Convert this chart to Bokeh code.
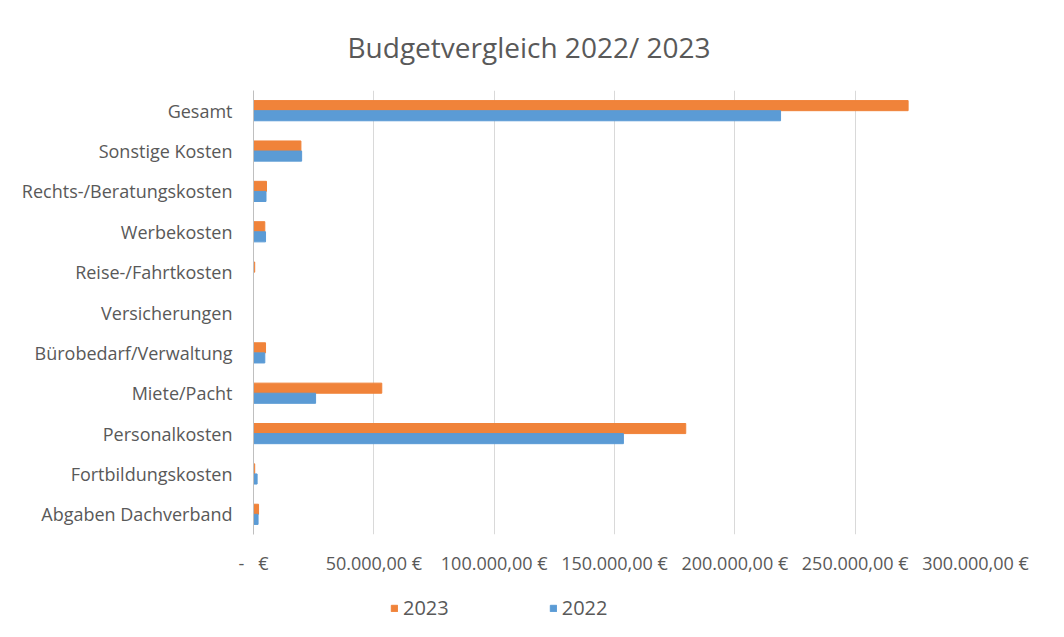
from bokeh.plotting import figure
from bokeh.layouts import column
from bokeh.models import FactorRange, FixedTicker, Legend, LegendItem, ColumnDataSource
from bokeh.transform import dodge
from bokeh.embed import file_html
from bokeh.resources import INLINE

categories = ["Abgaben Dachverband", "Fortbildungskosten", "Personalkosten", "Miete/Pacht",
              "Bürobedarf/Verwaltung", "Versicherungen", "Reise-/Fahrtkosten", "Werbekosten",
              "Rechts-/Beratungskosten", "Sonstige Kosten", "Gesamt"]
values_2023 = [2100, 500, 179600, 53300, 5000, 0, 500, 4700, 5400, 19700, 272000]
values_2022 = [1900, 1500, 153700, 25800, 4700, 0, 0, 5000, 5200, 20000, 219000]
tick_values = [0, 50000, 100000, 150000, 200000, 250000, 300000]
tick_labels = ["-\u00a0\u00a0\u00a0€", "50.000,00 €", "100.000,00 €", "150.000,00 €", "200.000,00 €",
               "250.000,00 €", "300.000,00 €"]
series_names = ["2023", "2022"]
series_colors = ["#F0833A", "#5B9BD5"]

src = ColumnDataSource(dict(cat=categories, v23=values_2023, v22=values_2022))

TXT = "#595959"
FONT = "Open Sans"

p = figure(frame_width=722, frame_height=444, y_range=FactorRange(factors=categories),
           x_range=(0, 300000), output_backend="svg", toolbar_location=None,
           title="Budgetvergleich 2022/ 2023")
p.min_border_left = 253
p.min_border_right = 85
p.min_border_top = 90
p.min_border_bottom = 46
p.outline_line_color = None
p.border_fill_color = "white"

p.title.align = "left"
p.title.text_font = FONT
p.title.text_font_size = "28px"
p.title.text_font_style = "normal"
p.title.text_color = TXT
p.title.offset = 94
p.title.standoff = 50

r23 = p.hbar(y=dodge("cat", 0.125, range=p.y_range), right="v23", height=0.25, left=0,
             source=src, color=series_colors[0])
r22 = p.hbar(y=dodge("cat", -0.125, range=p.y_range), right="v22", height=0.25, left=0,
             source=src, color=series_colors[1])

p.xaxis.ticker = FixedTicker(ticks=tick_values)
p.xaxis.major_label_overrides = {v: l for v, l in zip(tick_values, tick_labels)}
p.xaxis.axis_line_color = None
p.xaxis.major_tick_line_color = None
p.xaxis.minor_tick_line_color = None
p.xaxis.major_label_text_font = FONT
p.xaxis.major_label_text_font_size = "18px"
p.xaxis.major_label_text_color = TXT
p.xaxis.major_label_standoff = 10

p.yaxis.axis_line_color = "#bfbfbf"
p.yaxis.major_tick_line_color = None
p.yaxis.minor_tick_line_color = None
p.yaxis.major_label_text_font = FONT
p.yaxis.major_label_text_font_size = "18px"
p.yaxis.major_label_text_color = TXT
p.yaxis.major_label_standoff = 15

p.xgrid.grid_line_color = "#d9d9d9"
p.ygrid.grid_line_color = None

# legend strip below the chart (dummy marks lie outside its visible range)
pl = figure(frame_width=1060, frame_height=57, x_range=(0, 1), y_range=(0, 1),
            output_backend="svg", toolbar_location=None,
            min_border_left=0, min_border_right=0, min_border_top=0, min_border_bottom=0)
pl.axis.visible = False
pl.grid.visible = False
pl.outline_line_color = None
leg_renderers = [pl.hbar(y=[-5], right=[-4], left=-5, height=0.1, color=c) for c in series_colors]

legend = Legend(items=[LegendItem(label=n, renderers=[r]) for n, r in zip(series_names, leg_renderers)],
                orientation="horizontal", location=(390, 16), margin=0, padding=0,
                glyph_width=8, glyph_height=8, spacing=100, label_standoff=5,
                label_text_font=FONT, label_text_font_size="20px", label_text_color=TXT,
                border_line_color=None, background_fill_alpha=0)
pl.add_layout(legend, "center")

open("out.html", "w").write(file_html(column(p, pl, spacing=0), INLINE))
